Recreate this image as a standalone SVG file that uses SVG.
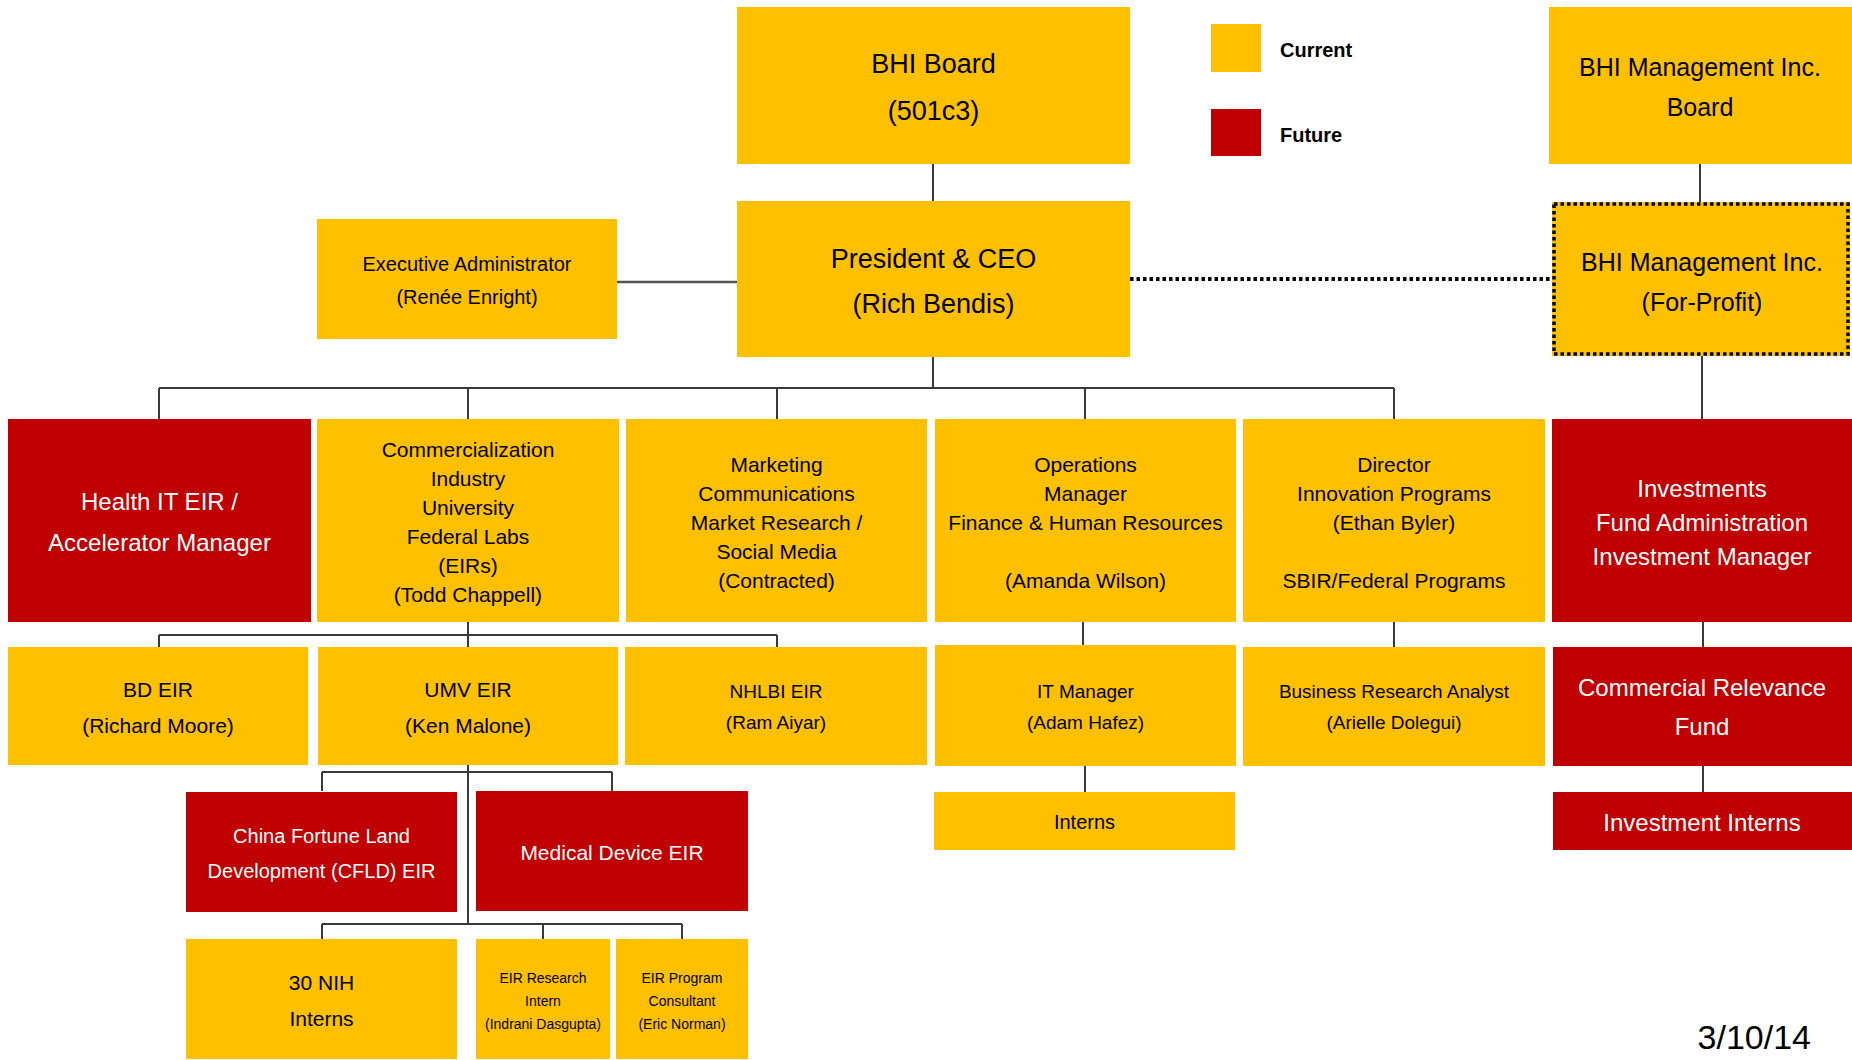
<svg xmlns="http://www.w3.org/2000/svg" width="1852" height="1060" viewBox="0 0 1852 1060">
<style>
.cur{fill:#FFC000}
.fut{fill:#C00000}
text{font-family:"Liberation Sans",Arial,sans-serif;text-anchor:middle;fill:#000}
.w{fill:#fff}
.ln{stroke:#3a3a3a;stroke-width:2;fill:none}
.dot{stroke:#000;stroke-width:4;stroke-dasharray:3.5 3;fill:none}
</style>
<rect width="1852" height="1060" fill="#fff"/>
<g id="connectors">
<path class="ln" d="M933 164V201M933 357V388M159 388H1394M159 388V419M468 388V419M777 388V419M1085 388V419M1394 388V419"/>
<path class="ln" style="stroke:#555;stroke-width:2.5" d="M617 282H737"/>
<path class="ln" d="M1700 164V202M1702 356V419"/>
<path class="dot" d="M1130 279H1552"/>
<path class="ln" d="M468 622V635M159 635H777M159 635V647M468 635V647M777 635V647"/>
<path class="ln" d="M1083 622V645M1394 622V647M1703 622V647"/>
<path class="ln" d="M468 765V924M322 772H612M322 772V791M612 772V791M322 924H682M322 924V939M543 924V939M682 924V939"/>
<path class="ln" d="M1085 766V792M1703 766V792"/>
</g>
<g id="legend">
<rect class="cur" x="1211" y="24" width="50" height="48"/>
<text x="1280" y="57" style="text-anchor:start;font-weight:bold;font-size:20px">Current</text>
<rect class="fut" x="1211" y="109" width="50" height="47"/>
<text x="1280" y="142" style="text-anchor:start;font-weight:bold;font-size:20px">Future</text>
</g>
<g id="bhi-board">
<rect class="cur" x="737" y="7" width="393" height="157"/>
<text x="933.5" y="73" font-size="27">BHI Board</text>
<text x="933.5" y="120" font-size="27">(501c3)</text>
</g>
<g id="president">
<rect class="cur" x="737" y="201" width="393" height="156"/>
<text x="933.5" y="268" font-size="27">President &amp; CEO</text>
<text x="933.5" y="313" font-size="27">(Rich Bendis)</text>
</g>
<g id="exec-admin">
<rect class="cur" x="317" y="219" width="300" height="120"/>
<text x="467" y="271" font-size="20">Executive Administrator</text>
<text x="467" y="304" font-size="20">(Renée Enright)</text>
</g>
<g id="mgmt-board">
<rect class="cur" x="1549" y="7" width="303" height="157"/>
<text x="1700" y="76" font-size="25">BHI Management Inc.</text>
<text x="1700" y="116" font-size="25">Board</text>
</g>
<g id="mgmt-forprofit">
<rect class="cur" x="1552" y="202" width="298" height="154"/>
<rect x="1554" y="204" width="294" height="150" fill="none" stroke="#000" stroke-width="3.5" stroke-dasharray="3.5 3"/>
<text x="1702" y="271" font-size="25">BHI Management Inc.</text>
<text x="1702" y="311" font-size="25">(For-Profit)</text>
</g>
<g id="health-it">
<rect class="fut" x="8" y="419" width="303" height="203"/>
<text class="w" x="159.5" y="510" font-size="24">Health IT EIR /</text>
<text class="w" x="159.5" y="551" font-size="24">Accelerator Manager</text>
</g>
<g id="commercialization">
<rect class="cur" x="317" y="419" width="302" height="203"/>
<text x="468" y="457" font-size="21">Commercialization</text>
<text x="468" y="486" font-size="21">Industry</text>
<text x="468" y="515" font-size="21">University</text>
<text x="468" y="544" font-size="21">Federal Labs</text>
<text x="468" y="573" font-size="21">(EIRs)</text>
<text x="468" y="602" font-size="21">(Todd Chappell)</text>
</g>
<g id="marketing">
<rect class="cur" x="626" y="419" width="301" height="203"/>
<text x="776.5" y="472" font-size="21">Marketing</text>
<text x="776.5" y="501" font-size="21">Communications</text>
<text x="776.5" y="530" font-size="21">Market Research /</text>
<text x="776.5" y="559" font-size="21">Social Media</text>
<text x="776.5" y="588" font-size="21">(Contracted)</text>
</g>
<g id="operations">
<rect class="cur" x="935" y="419" width="301" height="203"/>
<text x="1085.5" y="472" font-size="21">Operations</text>
<text x="1085.5" y="501" font-size="21">Manager</text>
<text x="1085.5" y="530" font-size="21">Finance &amp; Human Resources</text>
<text x="1085.5" y="588" font-size="21">(Amanda Wilson)</text>
</g>
<g id="director">
<rect class="cur" x="1243" y="419" width="302" height="203"/>
<text x="1394" y="472" font-size="21">Director</text>
<text x="1394" y="501" font-size="21">Innovation Programs</text>
<text x="1394" y="530" font-size="21">(Ethan Byler)</text>
<text x="1394" y="588" font-size="21">SBIR/Federal Programs</text>
</g>
<g id="investments">
<rect class="fut" x="1552" y="419" width="300" height="203"/>
<text class="w" x="1702" y="497" font-size="24">Investments</text>
<text class="w" x="1702" y="531" font-size="24">Fund Administration</text>
<text class="w" x="1702" y="565" font-size="24">Investment Manager</text>
</g>
<g id="bd-eir">
<rect class="cur" x="8" y="647" width="300" height="118"/>
<text x="158" y="697" font-size="21">BD EIR</text>
<text x="158" y="733" font-size="21">(Richard Moore)</text>
</g>
<g id="umv-eir">
<rect class="cur" x="318" y="647" width="300" height="118"/>
<text x="468" y="697" font-size="21">UMV EIR</text>
<text x="468" y="733" font-size="21">(Ken Malone)</text>
</g>
<g id="nhlbi-eir">
<rect class="cur" x="625" y="647" width="302" height="118"/>
<text x="776" y="698" font-size="19">NHLBI EIR</text>
<text x="776" y="729" font-size="19">(Ram Aiyar)</text>
</g>
<g id="it-manager">
<rect class="cur" x="935" y="645" width="301" height="121"/>
<text x="1085.5" y="698" font-size="19">IT Manager</text>
<text x="1085.5" y="729" font-size="19">(Adam Hafez)</text>
</g>
<g id="business-research">
<rect class="cur" x="1243" y="647" width="302" height="119"/>
<text x="1394" y="698" font-size="19">Business Research Analyst</text>
<text x="1394" y="729" font-size="19">(Arielle Dolegui)</text>
</g>
<g id="commercial-relevance">
<rect class="fut" x="1553" y="647" width="299" height="119"/>
<text class="w" x="1702" y="696" font-size="24">Commercial Relevance</text>
<text class="w" x="1702" y="735" font-size="24">Fund</text>
</g>
<g id="interns">
<rect class="cur" x="934" y="792" width="301" height="58"/>
<text x="1084.5" y="829" font-size="20">Interns</text>
</g>
<g id="investment-interns">
<rect class="fut" x="1553" y="792" width="299" height="58"/>
<text class="w" x="1702" y="831" font-size="24">Investment Interns</text>
</g>
<g id="cfld-eir">
<rect class="fut" x="186" y="792" width="271" height="120"/>
<text class="w" x="321.5" y="843" font-size="20">China Fortune Land</text>
<text class="w" x="321.5" y="878" font-size="20">Development (CFLD) EIR</text>
</g>
<g id="medical-device-eir">
<rect class="fut" x="476" y="791" width="272" height="120"/>
<text class="w" x="612" y="860" font-size="21">Medical Device EIR</text>
</g>
<g id="nih-interns">
<rect class="cur" x="186" y="939" width="271" height="120"/>
<text x="321.5" y="990" font-size="21">30 NIH</text>
<text x="321.5" y="1026" font-size="21">Interns</text>
</g>
<g id="eir-research-intern">
<rect class="cur" x="476" y="939" width="134" height="120"/>
<text x="543" y="983" font-size="14">EIR Research</text>
<text x="543" y="1006" font-size="14">Intern</text>
<text x="543" y="1029" font-size="14">(Indrani Dasgupta)</text>
</g>
<g id="eir-program-consultant">
<rect class="cur" x="616" y="939" width="132" height="120"/>
<text x="682" y="983" font-size="14">EIR Program</text>
<text x="682" y="1006" font-size="14">Consultant</text>
<text x="682" y="1029" font-size="14">(Eric Norman)</text>
</g>
<text x="1811" y="1049" font-size="34" style="text-anchor:end">3/10/14</text>
</svg>
